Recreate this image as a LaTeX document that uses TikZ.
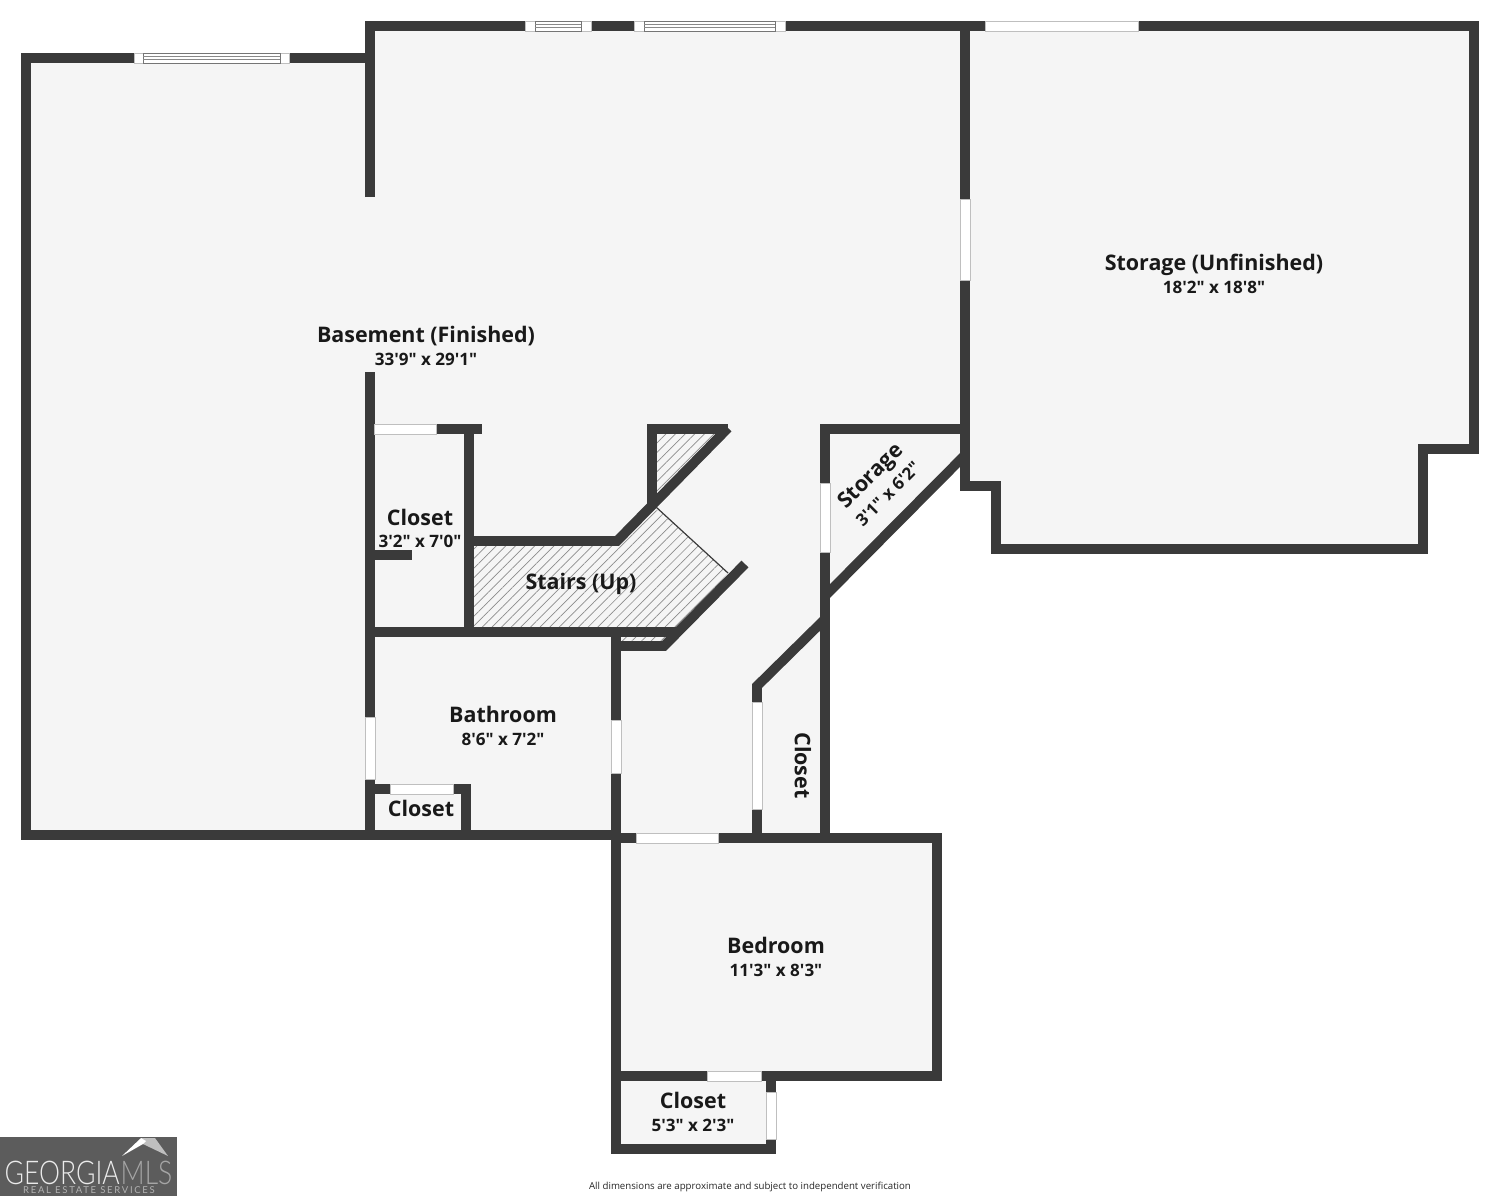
\documentclass[tikz,border=0pt]{standalone}
\usepackage{fontspec}
\setmainfont[Ligatures=TeXOff]{Open Sans}
\newfontfamily\logofont{Lato Light}
\newfontfamily\logosmall[LetterSpace=18]{Lato}
\usetikzlibrary{positioning, patterns.meta}
\definecolor{wallgray}{HTML}{3A3A3A}
\definecolor{floorgray}{HTML}{F5F5F5}
\definecolor{logogray}{HTML}{5C5C5C}
\tikzset{
	wall/.style={draw=wallgray,line width=0.097cm,miter limit=10},
	gap/.style={fill=white,draw=black!25,line width=0.008cm},
	hatched/.style={pattern={Lines[angle=45,distance=0.068cm,line width=0.007cm]},pattern color=black!45},
	room/.style={font=\bfseries\fontsize{6.1pt}{7pt}\selectfont,text=black!90,inner sep=0pt},
	dims/.style={font=\bfseries\fontsize{4.85pt}{6pt}\selectfont,text=black!90,inner sep=0pt}
}

\begin{document}
\begin{tikzpicture}[x=0.01cm,y=-0.01cm]
	\useasboundingbox (0,0) rectangle (1500,1196);
	% floor
	\fill[floorgray] (26,58) -- (370,58) -- (370,26) -- (1474,26) -- (1474,449) -- (1423,449) -- (1423,549) -- (996,549) -- (996,486) -- (965,486) -- (965,455) -- (825,594) -- (825,838) -- (937,838) -- (937,1076) -- (771,1076) -- (771,1149) -- (616,1149) -- (616,835) -- (26,835) -- cycle;
	% hatching
	\fill[hatched] (469,541) -- (617,541) -- (652,505) -- (728,573) -- (678,632) -- (469,632) -- cycle;
	\fill[hatched] (652,429) -- (728,429) -- (652,505) -- cycle;
	\fill[hatched] (616,632) -- (678,632) -- (664,646) -- (616,646) -- cycle;
	\draw[wallgray,line width=0.012cm] (656,507) -- (728,573);
	% walls
	\draw[wall] (370,197) -- (370,26) -- (1474,26) -- (1474,449) -- (1423,449) -- (1423,549) -- (996,549) -- (996,486) -- (965,486) -- (965,26);
	\draw[wall] (370,58) -- (26,58) -- (26,835) -- (616,835);
	\draw[wall] (370,372) -- (370,835);
	\draw[wall] (436,429) -- (482,429);
	\draw[wall] (469,429) -- (469,632);
	\draw[wall] (370,555) -- (412,555);
	\draw[wall] (370,632) -- (678,632);
	\draw[wall] (469,541) -- (617,541) -- (728,428);
	\draw[wall] (728,429) -- (652,429) -- (652,505);
	\draw[wall] (745,564) -- (664,646) -- (616,646);
	\draw[wall] (965,429) -- (825,429) -- (825,838);
	\draw[wall] (825,596) -- (965,455);
	\draw[wall] (825,619) -- (757,686) -- (757,838);
	\draw[wall] (616,632) -- (616,1149) -- (771,1149) -- (771,1076);
	\draw[wall] (616,838) -- (937,838) -- (937,1076) -- (616,1076);
	\draw[wall] (370,789) -- (466,789) -- (466,835);
	% doorways
	\path[gap] (134,53) rectangle (289,63);
	\path[gap] (525,21) rectangle (591,31);
	\path[gap] (634,21) rectangle (785,31);
	\path[gap] (985,21) rectangle (1138,31);
	\path[gap] (960,199) rectangle (970,280);
	\path[gap] (374,424) rectangle (436,434);
	\path[gap] (820,483) rectangle (830,552);
	\path[gap] (365,717) rectangle (375,779);
	\path[gap] (611,720) rectangle (621,773);
	\path[gap] (390,784) rectangle (453,794);
	\path[gap] (752,702) rectangle (762,809);
	\path[gap] (636,833) rectangle (718,843);
	\path[gap] (707,1071) rectangle (761,1081);
	\path[gap] (766,1092) rectangle (776,1139);
	% window frames
	\foreach \xa/\xb/\ya in {143/280/53,535/581/21,644/775/21} {
		\draw[wallgray!70,line width=0.009cm] (\xa,\ya) rectangle (\xb,\ya+10);
		\draw[wallgray!60,line width=0.006cm] (\xa,\ya+3.5) -- (\xb,\ya+3.5) (\xa,\ya+6.5) -- (\xb,\ya+6.5);
	}
	% rooms
	\node[room] (basement) at (426,336) {Basement (Finished)};
	\node[dims] (basementdim) at (426,359) {33'9" x 29'1"};
	\node[room] (unfinished) at (1214,265) {Storage (Unfinished)};
	\node[dims] (unfinisheddim) at (1214,287) {18'2" x 18'8"};
	\node[room,rotate=45] (storage) at (871.5,477) {Storage};
	\node[dims,rotate=45] (storagedim) at (888,494) {3'1" x 6'2"};
	\node[room] (closeta) at (420,517) {Closet};
	\node[dims] (closetadim) at (420,541.5) {3'2" x 7'0"};
	\node[room] (stairs) at (581,584) {Stairs (Up)};
	\node[room] (bathroom) at (503,714) {Bathroom};
	\node[dims] (bathroomdim) at (503,739.5) {8'6" x 7'2"};
	\node[room] (closetb) at (421,808) {Closet};
	\node[room,rotate=-90] (closetc) at (803,765.5) {Closet};
	\node[room] (bedroom) at (776,945) {Bedroom};
	\node[dims] (bedroomdim) at (776,970) {11'3" x 8'3"};
	\node[room] (closetd) at (693,1100) {Closet};
	\node[dims] (closetddim) at (693,1125) {5'3" x 2'3"};
	\node[font=\fontsize{2.75pt}{4pt}\selectfont,inner sep=0pt,text=black!85] (note) at (750,1186.5) {All dimensions are approximate and subject to independent verification};
	% logo
	\fill[logogray] (0,1137) rectangle (177,1196);
	\fill[white!75!black] (141,1138) -- (155,1138) -- (168,1156) -- (143,1144) -- cycle;
	\fill[white] (122,1156) -- (141,1138) -- (146,1141) -- (143,1144) -- cycle;
	\node[font=\logofont\fontsize{9.3pt}{10pt}\selectfont,text=white!92!black,anchor=base west,inner sep=0pt] (georgia) at (4,1184) {\scalebox{0.81}[1]{GEORGIA}};
	\node[font=\logofont\fontsize{9.3pt}{10pt}\selectfont,text=white!65!black,anchor=base west,inner sep=0pt] (mls) at (120,1184) {\scalebox{0.81}[1]{MLS}};
	\node[font=\logosmall\fontsize{2.7pt}{4pt}\selectfont,text=white!70!black,inner sep=0pt] (services) at (89,1190) {REAL ESTATE SERVICES};
\end{tikzpicture}
\end{document}
